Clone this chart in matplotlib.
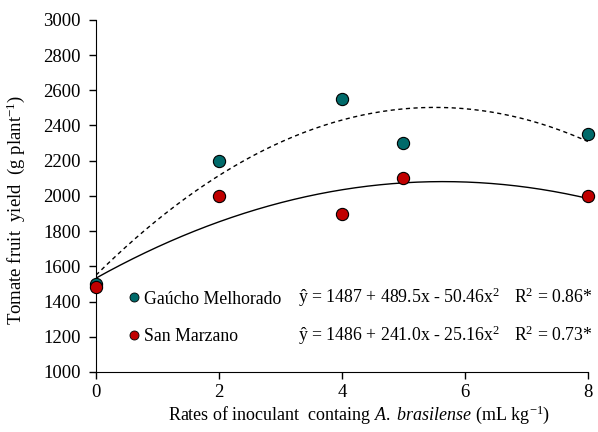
import numpy as np
import matplotlib
matplotlib.use("Agg")
import matplotlib.pyplot as plt
from matplotlib.lines import Line2D

plt.rcParams['font.family'] = ['Liberation Serif', 'DejaVu Serif']
plt.rcParams['mathtext.fontset'] = 'custom'
plt.rcParams['mathtext.rm'] = 'Liberation Serif'
plt.rcParams['mathtext.it'] = 'Liberation Serif:italic'

# data
rates = [0, 2, 4, 5, 8]
gaucho = [1500, 2200, 2550, 2300, 2350]
sanmarzano = [1480, 2000, 1900, 2100, 2000]

eq_gaucho = "ŷ = 1487 + 489.5x - 50.46x$^{2}$"
eq_sm = "ŷ = 1486 + 241.0x - 25.16x$^{2}$"
r2_gaucho = "R$^{2}$ = 0.86*"
r2_sm = "R$^{2}$ = 0.73*"

teal = '#006A6A'
red = '#C00000'

fig = plt.figure(figsize=(5.98, 4.32), dpi=100)
ax = fig.add_axes([0.1605, 0.139, 0.8225, 0.815])

# quadratic trendlines
xs = np.linspace(0, 8, 200)
pg = np.polyfit(rates, gaucho, 2)
ps = np.polyfit(rates, sanmarzano, 2)
ax.plot(xs, np.polyval(pg, xs), color='black', lw=1, ls=(0, (3, 2.5)), zorder=2)
ax.plot(xs, np.polyval(ps, xs), color='black', lw=1, zorder=2)

ax.plot(rates, gaucho, 'o', ms=8.8, mfc=teal, mec='black', mew=0.8, zorder=3, clip_on=False)
ax.plot(rates, sanmarzano, 'o', ms=8.8, mfc=red, mec='black', mew=0.8, zorder=3, clip_on=False)

ax.set_xlim(0, 8)
ax.set_ylim(1000, 3000)
ax.set_xticks([0, 2, 4, 6, 8])
ax.set_yticks(range(1000, 3001, 200))
ax.spines['top'].set_visible(False)
ax.spines['right'].set_visible(False)
ax.tick_params(direction='out', length=5, width=1, labelsize=13.5)
ax.tick_params(axis='y', pad=6)
ax.tick_params(axis='x', pad=4)
ax.set_ylabel("Tomate fruit  yield  (g plant$^{-1}$)", fontsize=13.5, va='center')
ax.set_xlabel("Rates of inoculant  containg $\\it{A.\\ brasilense}$ (mL kg$^{-1}$)", fontsize=13, va='center')
ax.yaxis.set_label_coords(-0.163, 0.46)
ax.xaxis.set_label_coords(0.535, -0.122)

handles = [Line2D([], [], marker='o', ls='', ms=6.5, mfc=teal, mec='black', mew=0.6),
           Line2D([], [], marker='o', ls='', ms=6.5, mfc=red, mec='black', mew=0.6)]
ax.legend(handles, ["Gaúcho Melhorado", "San Marzano"], loc='upper left',
          bbox_to_anchor=(0.051, 0.251), frameon=False, fontsize=12.8,
          handlelength=0.6, handletextpad=0.3, labelspacing=1.15, borderaxespad=0)

ax.text(0.41, 0.213, eq_gaucho, transform=ax.transAxes, fontsize=12.8, va='center')
ax.text(0.41, 0.105, eq_sm, transform=ax.transAxes, fontsize=12.8, va='center')
ax.text(1.01, 0.213, r2_gaucho, transform=ax.transAxes, fontsize=12.8, va='center', ha='right')
ax.text(1.01, 0.105, r2_sm, transform=ax.transAxes, fontsize=12.8, va='center', ha='right')

fig.savefig("out.png", dpi=100)
